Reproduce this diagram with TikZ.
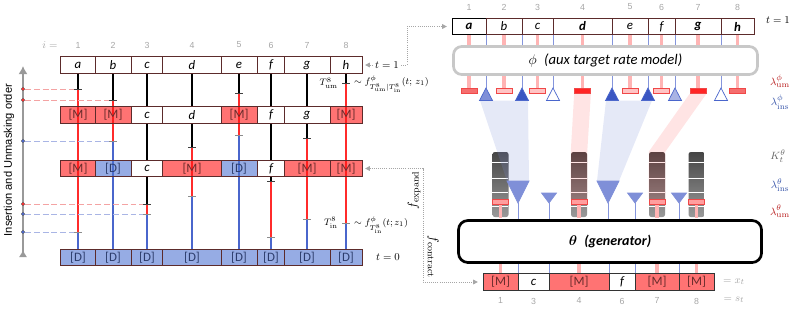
\documentclass[tikz,border=0pt]{standalone}
\usepackage[no-math]{fontspec}
\setmainfont{Carlito}
\newfontfamily\arialfont{Liberation Sans}
\usepackage{tikz}
\usetikzlibrary{arrows.meta,positioning,backgrounds,calc}
\definecolor{cellline}{HTML}{5C2B2B}
\definecolor{mfill}{HTML}{FF1616}
\definecolor{dfill}{HTML}{5075D2}
\definecolor{mtext}{HTML}{6A2C2C}
\definecolor{dtext}{HTML}{2C3C6C}
\definecolor{lred}{HTML}{FF2B2B}
\definecolor{lblue}{HTML}{4A66CC}
\definecolor{dashred}{HTML}{F4A3A3}
\definecolor{dashblue}{HTML}{A9B5E5}
\definecolor{idxgray}{HTML}{A6A6A6}
\definecolor{pinkstem}{HTML}{FFB4B4}
\definecolor{thinblue}{HTML}{8595DC}
\definecolor{triblue}{HTML}{7F8FD8}
\definecolor{tridark}{HTML}{3A56C2}
\definecolor{trilight}{HTML}{A9B4E4}
\definecolor{umhigh}{HTML}{FF2424}
\definecolor{ummid}{HTML}{F56E6E}
\definecolor{umlow}{HTML}{FFC4C4}
\definecolor{umedge}{HTML}{F04848}
\definecolor{kbar}{HTML}{FF9E9E}
\definecolor{labred}{HTML}{B81C1C}
\definecolor{labblue}{HTML}{3452A8}
\definecolor{kdark}{HTML}{454545}
\definecolor{klight}{HTML}{9A9A9A}
\definecolor{phigray}{HTML}{C8C8C8}
\newcommand\cellfont{\fontsize{11}{13}\selectfont}

\begin{document}
\begin{tikzpicture}[x=0.03cm, y=-0.03cm,
  wd/.style={minimum width=#1*0.03cm},
  cellbox/.style={rectangle, draw=cellline, line width=0.8pt, minimum height=0.5cm, inner sep=0pt, font=\cellfont},
  wcell/.style={cellbox, fill=white, font=\cellfont\itshape},
  mcell/.style={cellbox, fill=mfill, fill opacity=0.6, text opacity=1, text=mtext},
  dcell/.style={cellbox, fill=dfill, fill opacity=0.6, text opacity=1, text=dtext},
  idx/.style={text=idxgray, font=\arialfont\fontsize{7.5}{9}\selectfont},
  lnblack/.style={line width=1.4pt, black},
  lnred/.style={line width=1.4pt, lred},
  lnblue/.style={line width=1.4pt, lblue},
  tickmk/.style={line width=0.8pt, black!75},
  dashr/.style={dashred, line width=0.8pt, dash pattern=on 5pt off 2.5pt},
  dashb/.style={dashblue, line width=0.8pt, dash pattern=on 5pt off 2.5pt},
  dotr/.style={circle, fill=lred, draw=black!60, line width=0.3pt, inner sep=0pt, minimum size=3.3pt},
  dotb/.style={circle, fill=lblue, draw=black!60, line width=0.3pt, inner sep=0pt, minimum size=3.3pt},
  axisln/.style={gray!80, line width=2pt, {Latex[reversed,length=6pt,width=7pt]}-{Latex[length=7pt,width=8pt]}},
  anno/.style={font=\fontsize{8}{9}\selectfont, inner sep=0pt},
  tlab/.style={font=\fontsize{9}{10}\selectfont, inner sep=1pt},
  flab/.style={font=\fontsize{11}{12}\selectfont, inner sep=0pt},
  dotconn/.style={densely dotted, black!35, line width=0.8pt, shorten <=0.8mm, shorten >=1.4mm,
    {Triangle[length=4pt,width=4pt]}-{Triangle[length=4pt,width=4pt]}},
  phibox/.style={rectangle, rounded corners=7pt, draw=phigray, line width=2.3pt, fill=white, font=\fontsize{12.5}{14}\selectfont\itshape},
  thetabox/.style={rectangle, rounded corners=8pt, draw=black, line width=2.3pt, fill=white, font=\fontsize{12}{14}\selectfont\bfseries\itshape},
  stempk/.style={pinkstem, line width=3pt},
  stembl/.style={thinblue, line width=0.8pt},
  umbar/.style={rectangle, draw=umedge, line width=0.6pt, minimum width=16*0.03cm, minimum height=5*0.03cm, inner sep=0pt},
  tri/.style={draw=lblue, line width=0.6pt},
  kcol/.style={rectangle, rounded corners=2pt, top color=kdark, bottom color=klight, minimum width=16*0.03cm, minimum height=65*0.03cm, inner sep=0pt},
  kline/.style={white, line width=0.8pt},
  bandb/.style={fill=triblue, fill opacity=0.2},
  bandr/.style={fill=lred, fill opacity=0.13},
  rlab/.style={font=\fontsize{9.5}{11}\selectfont, inner sep=0pt}
]
\useasboundingbox (0,0) rectangle (797,311);

% left: insertion / unmasking trajectory
\node[idx, font=\fontsize{9}{10}\selectfont] (ieq) at (50,45) {$i=$};
\foreach \i/\cx in {1/78, 2/113, 3/147, 4/192, 5/239, 6/271, 7/307, 8/346}
  \node[idx] (li\i) at (\cx,45) {\i};

\foreach \i/\cx/\w/\lab in {1/78/35/a, 2/113/36/b, 3/147/31/c, 4/192/59/d, 5/239/36/e, 6/271/27/f, 7/307/46/g, 8/346/32/h}
  \node[wcell, wd=\w] (r1c\i) at (\cx,65) {\lab};
\foreach \i/\cx/\w/\sty/\lab in {1/78/35/mcell/{[M]}, 2/113/36/mcell/{[M]}, 3/147/31/wcell/c, 4/192/59/wcell/d,
    5/239/36/mcell/{[M]}, 6/271/27/wcell/f, 7/307/46/wcell/g, 8/346/32/mcell/{[M]}}
  \node[\sty, wd=\w] (r2c\i) at (\cx,115) {\lab};
\foreach \i/\cx/\w/\sty/\lab in {1/78/35/mcell/{[M]}, 2/113/36/dcell/{[D]}, 3/147/31/wcell/c, 4/192/59/mcell/{[M]},
    5/239/36/dcell/{[D]}, 6/271/27/wcell/f, 7/307/46/mcell/{[M]}, 8/346/32/mcell/{[M]}}
  \node[\sty, wd=\w] (r3c\i) at (\cx,168.5) {\lab};
\foreach \i/\cx/\w in {1/78/35, 2/113/36, 3/147/31, 4/192/59, 5/239/36, 6/271/27, 7/307/46, 8/346/32}
  \node[dcell, wd=\w] (r4c\i) at (\cx,257.5) {[D]};

% unmask (ua) and insert (ub) times per column
\foreach \i/\cx/\ya/\yb in {1/78/89/232, 2/113/100/141, 3/147/204/214, 4/192/147/196,
    5/239/93/135, 6/271/181/237, 7/307/138/219, 8/346/83/223}{
  \coordinate (ua\i) at (\cx,\ya);
  \coordinate (ub\i) at (\cx,\yb);
}

\node[dotr] (or1) at (23,89) {};
\node[dotr] (or2) at (23,100) {};
\node[dotb] (ob1) at (23,141) {};
\node[dotr] (or3) at (23,204) {};
\node[dotb] (ob2) at (23,214) {};
\node[dotb] (ob3) at (23,232) {};
\coordinate (axlo) at (23,257);
\coordinate (axhi) at (23,66);

\begin{scope}[on background layer]
  \foreach \i in {1,...,8}{
    \draw[lnblack] (r1c\i.south) -- (ua\i);
    \draw[lnred] (ua\i) -- (ub\i);
    \draw[lnblue] (ub\i) -- (r4c\i.north);
  }
  \draw[axisln] (axlo) -- (axhi);
  \draw[dashr] (or1) -- (ua1);
  \draw[dashr] (or2) -- (ua2);
  \draw[dashr] (or3) -- (ua3);
  \draw[dashb] (ob1) -- (ub2);
  \draw[dashb] (ob2) -- (ub3);
  \draw[dashb] (ob3) -- (ub1);
\end{scope}
\foreach \i in {1,...,8}{
  \draw[tickmk] (ua\i) +(-4,0) -- +(4,0);
  \draw[tickmk, black!45] (ub\i) +(-4,0) -- +(4,0);
}

\node[rotate=90, font=\arialfont\fontsize{9.5}{11}\selectfont] (axlab) at (9,160) {Insertion and Unmasking order};

\node[anno, anchor=east] (tum) at (338,83) {$T^{8}_{\mathrm{um}}$};
\node[anno, anchor=west] (fum) at (354,84) {$\sim f^{\phi}_{T^{8}_{\mathrm{um}}|T^{8}_{\mathrm{in}}}(t;\, z_1)$};
\node[anno, anchor=east] (tin) at (338,223) {$T^{8}_{\mathrm{in}}$};
\node[anno, anchor=west] (fin) at (354,225) {$\sim f^{\phi}_{T^{8}_{\mathrm{in}}}(t; z_1)$};

% right: phi (aux target rate model)
\foreach \i/\cx in {1/469, 2/504, 3/537.5, 4/582.5, 5/630, 6/661.5, 7/698, 8/737.5}
  \node[idx] (ri\i) at (\cx,7) {\i};
\foreach \i/\cx/\w/\lab/\bc in {1/469/34/{\textbf{a}}/black, 2/504/36/b/cellline, 3/537.5/31/c/cellline,
    4/582.5/59/{\textbf{d}}/cellline, 5/630/36/e/cellline, 6/661.5/27/f/cellline, 7/698/46/{\textbf{g}}/cellline,
    8/737.5/33/{\textbf{h}}/cellline}
  \node[wcell, wd=\w, draw=\bc, minimum height=0.46cm] (q\i) at (\cx,26.5) {\lab};

\node[phibox, wd=304, minimum height=28*0.03cm] (phi) at (605.5,60.5) {$\phi$\enspace(aux target rate model)};

\foreach \i/\cx/\f in {1/469/ummid, 2/504/umlow, 3/537.5/umlow, 4/582.5/umhigh, 5/630/umlow, 6/661.5/umlow, 7/698/umhigh, 8/737.5/ummid}
  \node[umbar, fill=\f] (pb\i) at (\cx,91) {};
\foreach \i/\x/\f in {1/486/triblue, 2/522/tridark, 3/553/white, 4/612/tridark, 5/648/tridark, 6/675/trilight, 7/721/white}{
  \coordinate (pt\i) at (\x,88);
  \filldraw[tri, fill=\f] (pt\i) -- ++(-6.5,12.5) -- ++(13,0) -- cycle;
}

\begin{scope}[on background layer]
  \foreach \i in {1,...,8}{
    \draw[stempk] (q\i.south) -- (q\i.south |- phi.north);
    \draw[stempk] (pb\i.north |- phi.south) -- (pb\i.north);
  }
  \foreach \i in {1,...,7}{
    \draw[stembl] (q\i.south east) -- (q\i.south east |- phi.north);
    \draw[stembl] (pt\i |- phi.south) -- (pt\i);
  }
\end{scope}

% right: theta (generator)
\foreach \i/\x in {1/500.5, 2/579, 3/657, 4/696.5}{
  \node[kcol] (kc\i) at (\x,184.5) {};
  \foreach \dy in {11,27,41,55}
    \draw[kline] (kc\i.north west) ++(0,\dy) -- ++(16,0);
  \node[umbar, fill=kbar] (kb\i) at (\x,202) {};
}
\foreach \i/\x/\h/\hw/\ty in {1/518/22/11/181, 2/549/10/7.5/193, 3/608/22/11/181, 4/635/10/7.5/193, 5/679/10/7.5/193}{
  \coordinate (gt\i) at (\x,\ty+\h);
  \filldraw[tri, draw=triblue, fill=triblue] (gt\i) -- ++(-\hw,-\h) -- ++(2*\hw,0) -- cycle;
}

\fill[bandb] (480,100.5) -- (528,100.5) -- (529,181) -- (507,181) -- cycle;
\fill[bandb] (606,100.5) -- (652,100.5) -- (619,181) -- (597,181) -- cycle;
\fill[bandr] (pb4.south west) -- (pb4.south east) -- (kc2.north east) -- (kb2.north east) -- (kb2.north west) -- (kc2.north west) -- cycle;
\fill[bandr] (pb7.south west) -- (pb7.south east) -- (kc3.north east) -- (kb3.north east) -- (kb3.north west) -- (kc3.north west) -- cycle;

\node[thetabox, wd=303, minimum height=42*0.03cm] (theta) at (610,241.5) {{\boldmath$\theta$}\enspace(generator)};

\foreach \i in {1,...,4}
  \draw[stempk, shorten >=1.2pt] (kb\i.south) -- (kb\i.south |- theta.north);

\foreach \i/\cx/\w/\sty/\lab in {1/500.5/35/mcell/{[M]}, 2/533.5/31/wcell/c, 3/579/60/mcell/{[M]}, 4/622/26/wcell/f,
    5/657/44/mcell/{[M]}, 6/696.5/35/mcell/{[M]}}
  \node[\sty, wd=\w, draw=black!80] (b\i) at (\cx,282) {\lab};
\foreach \i/\n in {1/1, 2/3, 3/4, 4/6, 5/7, 6/8}
  \node[idx, below=2.5pt of b\i] (bi\i) {\n};

\begin{scope}[on background layer]
  \foreach \i in {1,...,5}
    \draw[stembl] (gt\i) -- (gt\i |- theta.north);
  \foreach \i in {1,3,5,6}
    \draw[stempk] (b\i.north |- theta.south) -- (b\i.north);
  \foreach \i in {1,...,5}
    \draw[stembl] (b\i.north east |- theta.south) -- (b\i.north east);
\end{scope}

\node[tlab] (t1R) at (778,20) {$t=1$};
\node[rlab, text=labred] (lumphi) at (780,81) {$\lambda^{\phi}_{\mathrm{um}}$};
\node[rlab, text=labblue] (linsphi) at (780,102) {$\lambda^{\phi}_{\mathrm{ins}}$};
\node[rlab, text=black!60] (kth) at (778,156) {$K^{\theta}_{t}$};
\node[rlab, text=labblue] (linsth) at (780,185) {$\lambda^{\theta}_{\mathrm{ins}}$};
\node[rlab, text=labred] (lumth) at (780,211) {$\lambda^{\theta}_{\mathrm{um}}$};
\node[rlab, text=idxgray] (xt) at (734,282) {$=x_t$};
\node[rlab, text=idxgray] (st) at (734,300) {$=s_t$};

% links between the two panels
\coordinate (bend1) at (407,26.5);
\draw[dotconn] (r1c8.east) -| (bend1) -- (q1.west);
\node[tlab, fill=white] (t1L) at (387,65) {$t=1$};
\coordinate (bend2) at (423,168.5);
\draw[dotconn] (r3c8.east) -- (bend2) |- (b1.west);
\node[tlab] (t0L) at (388,257.5) {$t=0$};
\node[flab, rotate=90] (fexp) at (414,190) {$f_{\mathrm{expand}}$};
\node[flab, rotate=-90] (fcon) at (433,257) {$f_{\mathrm{contract}}$};
\end{tikzpicture}
\end{document}
